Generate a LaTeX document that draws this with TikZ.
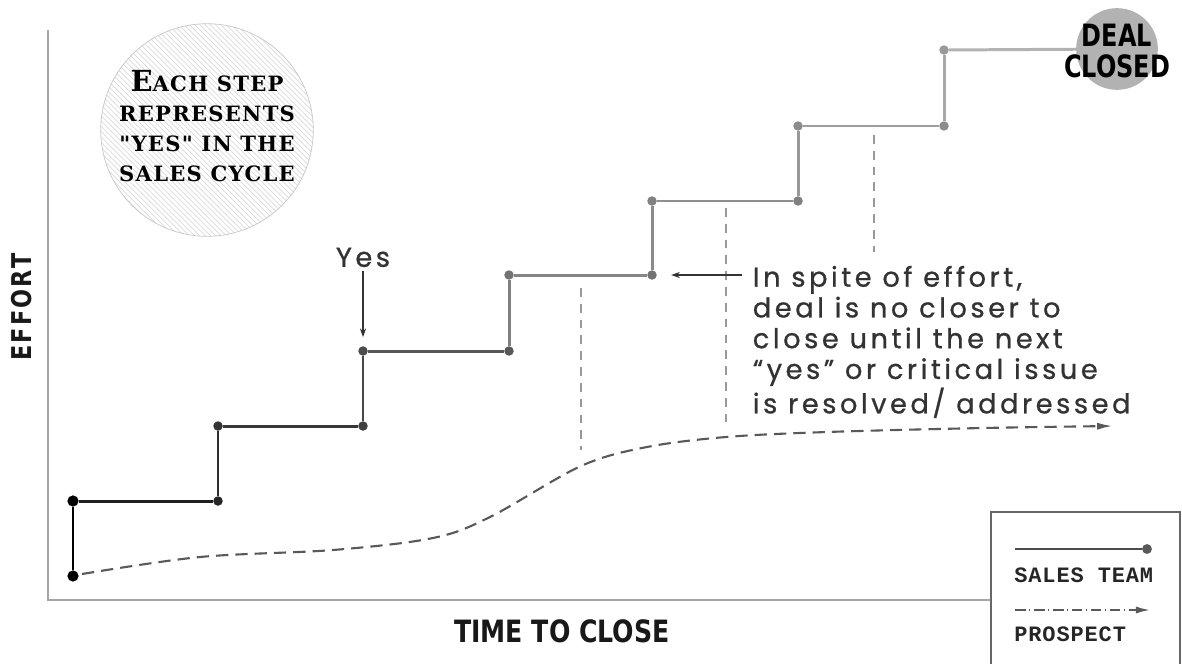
\documentclass[tikz,border=0pt]{standalone}
\usepackage{fontspec}
\usepackage{xcolor}
\usepackage{tikz}
\usetikzlibrary{positioning, arrows.meta, patterns}

\newfontfamily\axisfont[FakeStretch=0.82]{DejaVu Sans}
\newfontfamily\dealfont[FakeStretch=0.78]{DejaVu Sans}
\newfontfamily\effortfont[FakeStretch=0.82, LetterSpace=8]{DejaVu Sans}
\newfontfamily\notefont[LetterSpace=13, FakeBold=0.8]{Poppins}
\newfontfamily\stampfont[LetterSpace=6]{DejaVu Serif}
\newfontfamily\keyfont[LetterSpace=4]{Liberation Mono}

\begin{document}
\begin{tikzpicture}[x=0.02cm, y=-0.02cm, >=Stealth,
    stepdot/.style={circle, fill=#1, inner sep=0pt, minimum size=5.4pt},
    sales/.style={draw=#1, line width=1.7pt},
    axis/.style={draw=black!35, line width=1pt},
    axis label/.style={font=\axisfont\bfseries\fontsize{17.5pt}{20pt}\selectfont, text=black!90},
    guide/.style={draw=black!40, line width=0.7pt, dash pattern=on 5pt off 4pt},
    prospect/.style={draw=black!65, line width=1.2pt, dash pattern=on 7pt off 4pt, -{Latex[length=9pt, width=4pt]}},
    pointer/.style={draw=black!80, line width=0.6pt, -{Stealth[length=5pt, width=3.5pt]}},
    callout/.style={font=\notefont\fontsize{15.5pt}{17.5pt}\selectfont, text=black!80, inner sep=2pt},
    stamp disc/.style={circle, minimum size=121pt, inner sep=0pt, draw=black!22,
        pattern=north west lines, pattern color=black!14},
    stamp text/.style={align=center, font=\stampfont\bfseries\fontsize{12pt}{17pt}\selectfont},
    deal disc/.style={circle, minimum size=46.5pt, inner sep=0pt, fill=black!30},
    deal text/.style={align=center, font=\dealfont\bfseries\fontsize{17.5pt}{18pt}\selectfont},
    keybox/.style={draw=black!60, line width=1.2pt},
    key label/.style={anchor=west, inner sep=0pt, font=\keyfont\bfseries\fontsize{12.5pt}{14pt}\selectfont, text=black!85},
    key prospect/.style={draw=black!65, line width=1pt, dash pattern=on 6pt off 2pt on 0.8pt off 2pt, -{Latex[length=8pt, width=4pt]}}]

    \useasboundingbox (0,0) rectangle (1182,663);

    % axes
    \coordinate (top) at (48,30);
    \coordinate (origin) at (48,600);
    \coordinate (right) at (991,600);
    \draw[axis] (top) -- (origin) -- (right);
    \node[axis label, rotate=90, font=\effortfont\bfseries\fontsize{15.5pt}{18pt}\selectfont] (effort) at (22,307) {EFFORT};
    \node[axis label] (time) at (562,631) {TIME TO CLOSE};

    % hint circle
    \node[stamp disc] (stamp) at (207,130) {};
    \node[stamp text] (stamptext) at (207,126)
        {{\fontsize{16.5pt}{17pt}\selectfont E}ACH STEP\\REPRESENTS\\"YES" IN THE\\SALES CYCLE};

    % guides down to the prospect
    \draw[guide] (581,288) -- (581,450);
    \draw[guide] (726,208) -- (726,428);
    \draw[guide] (874,135) -- (874,252);

    % prospect curve
    \draw[prospect] plot[smooth, tension=0.55] coordinates {(82,574) (200,557) (333,550) (433,538)
        (490,517) (581,466) (647,447) (726,437) (827,432) (983,428) (1113,426)};

    % steps
    \node[stepdot=black, minimum size=6.4pt] (p0) at (73,576) {};
    \node[stepdot=black, minimum size=6.4pt] (p1) at (73,501) {};
    \node[stepdot=black!85] (p2) at (218,501) {};
    \node[stepdot=black!80] (p3) at (218,426) {};
    \node[stepdot=black!75] (p4) at (363,426) {};
    \node[stepdot=black!70] (p5) at (363,351) {};
    \node[stepdot=black!65] (p6) at (509,351) {};
    \node[stepdot=black!55] (p7) at (509,275) {};
    \node[stepdot=black!55] (p8) at (652,275) {};
    \node[stepdot=black!50] (p9) at (652,201) {};
    \node[stepdot=black!50] (p10) at (798,201) {};
    \node[stepdot=black!45] (p11) at (798,126) {};
    \node[stepdot=black!45] (p12) at (944,126) {};
    \node[stepdot=black!40] (p13) at (944,50) {};
    \node[deal disc] (deal) at (1117,49) {};
    \node[deal text] (dealtext) at (1117,51) {DEAL\\CLOSED};

    \path
    (p0) edge[sales=black] (p1)
    (p1) edge[sales=black!88] (p2)
    (p2) edge[sales=black!82] (p3)
    (p3) edge[sales=black!78] (p4)
    (p4) edge[sales=black!72] (p5)
    (p5) edge[sales=black!66] (p6)
    (p6) edge[sales=black!50] (p7)
    (p7) edge[sales=black!48] (p8)
    (p8) edge[sales=black!46] (p9)
    (p9) edge[sales=black!44] (p10)
    (p10) edge[sales=black!40] (p11)
    (p11) edge[sales=black!38] (p12)
    (p12) edge[sales=black!34] (p13)
    (p13) edge[sales=black!30] (deal);

    % labels
    \node[callout] (yes) [above=1.5cm of p5] {Yes};
    \draw[pointer, shorten >=5pt] (yes) -- (p5);
    \node[callout, anchor=north west, align=left] (note) at (749,262)
        {In spite of effort,\\deal is no closer to\\close until the next\\“yes” or critical issue\\is resolved/ addressed};
    \draw[pointer, shorten >=8pt] ([xshift=-4pt]note.west |- p8) -- (p8);

    % legend
    \draw[keybox] (991,512) rectangle (1180,668);
    \coordinate (k1) at (1015,549);
    \node[stepdot=black!65, minimum size=5.6pt] (k1end) at (1147,549) {};
    \draw[sales=black!70, line width=1pt] (k1) -- (k1end);
    \node[key label] (salesteam) at (1014,575) {SALES TEAM};
    \coordinate (k2) at (1015,610);
    \coordinate (k2end) at (1150,610);
    \draw[key prospect] (k2) -- (k2end);
    \node[key label] (prospectlabel) at (1014,634) {PROSPECT};
\end{tikzpicture}
\end{document}
